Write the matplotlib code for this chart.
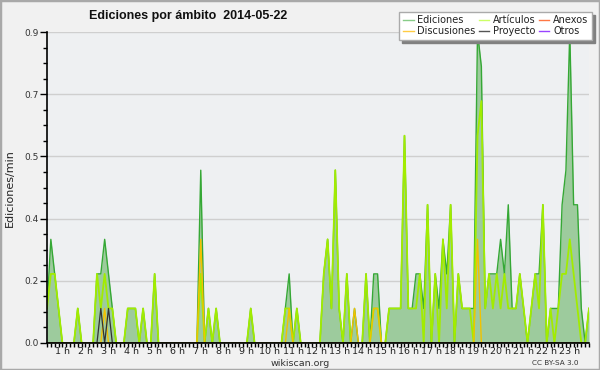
import numpy as np
import matplotlib
matplotlib.use("Agg")
import matplotlib.pyplot as plt
from matplotlib.patches import Rectangle
from matplotlib.lines import Line2D

# ---- data: 10-minute bins from 00:20 to 23:50 (edits per minute) ----
minutes = np.arange(20, 1440, 10)

ediciones = [
    0.1, 0.3, 0.2, 0.1,
    0, 0, 0, 0, 0.1, 0,
    0, 0, 0, 0.2, 0.2, 0.3,
    0.2, 0.1, 0, 0, 0, 0.1,
    0.1, 0.1, 0, 0.1, 0, 0,
    0.2, 0, 0, 0, 0, 0,
    0, 0, 0, 0, 0, 0,
    0.5, 0, 0.1, 0, 0.1, 0,
    0, 0, 0, 0, 0, 0,
    0, 0.1, 0, 0, 0, 0,
    0, 0, 0, 0, 0.1, 0.2,
    0, 0.1, 0, 0, 0, 0,
    0, 0, 0.2, 0.3, 0.1, 0.5,
    0.1, 0, 0.2, 0, 0.1, 0,
    0, 0.2, 0, 0.2, 0.2, 0,
    0, 0.1, 0.1, 0.1, 0.1, 0.6,
    0.1, 0.1, 0.2, 0.2, 0.1, 0.4,
    0, 0.2, 0.1, 0.3, 0.2, 0.4,
    0, 0.2, 0.1, 0.1, 0.1, 0.1,
    0.9, 0.8, 0.1, 0.2, 0.2, 0.2,
    0.3, 0.2, 0.4, 0.1, 0.1, 0.2,
    0.1, 0, 0.1, 0.2, 0.2, 0.4,
    0, 0.1, 0.1, 0.1, 0.4, 0.5,
    0.9, 0.4, 0.4, 0.1, 0, 0.1,
]

articulos = [
    0.1, 0.2, 0.2, 0.1,
    0, 0, 0, 0, 0.1, 0,
    0, 0, 0, 0.2, 0.1, 0.2,
    0.1, 0.1, 0, 0, 0, 0.1,
    0.1, 0.1, 0, 0.1, 0, 0,
    0.2, 0, 0, 0, 0, 0,
    0, 0, 0, 0, 0, 0,
    0.2, 0, 0.1, 0, 0.1, 0,
    0, 0, 0, 0, 0, 0,
    0, 0.1, 0, 0, 0, 0,
    0, 0, 0, 0, 0.1, 0.1,
    0, 0.1, 0, 0, 0, 0,
    0, 0, 0.2, 0.3, 0.1, 0.5,
    0.1, 0, 0.2, 0, 0, 0,
    0, 0.2, 0, 0.1, 0.1, 0,
    0, 0.1, 0.1, 0.1, 0.1, 0.6,
    0.1, 0.1, 0.1, 0.2, 0, 0.4,
    0, 0.2, 0, 0.3, 0.1, 0.4,
    0, 0.2, 0.1, 0.1, 0.1, 0,
    0.6, 0.7, 0.1, 0.2, 0.1, 0.2,
    0.1, 0.2, 0.1, 0.1, 0.1, 0.2,
    0.1, 0, 0.1, 0.2, 0.1, 0.4,
    0, 0.1, 0, 0.1, 0.2, 0.2,
    0.3, 0.2, 0.1, 0, 0, 0.1,
]

discusiones = [0.0] * 142
for m, v in [(170, 0.1), (420, 0.3), (650, 0.1), (820, 0.1), (870, 0.1), (880, 0.1), (1140, 0.3)]:
    discusiones[(m - 20) // 10] = v

proyecto = [0.0] * 142
for m, v in [(160, 0.1), (180, 0.1)]:
    proyecto[(m - 20) // 10] = v

anexos = [0.0] * 142
otros = [0.0] * 142

hour_labels = [f"{h} h" for h in range(1, 24)]
y_ticks = [0, 0.18, 0.36, 0.54, 0.72, 0.9]

# ---- figure ----
fig = plt.figure(figsize=(6.0, 3.7), dpi=100, facecolor="#f1f1f1")
ax = fig.add_axes([47 / 600, 1 - 343 / 370, 542 / 600, 311 / 370])
ax.set_facecolor("#eef0f2")

x = minutes / 60.0
ax.fill_between(x, 0, ediciones, color="#9dcb9d", lw=0, zorder=2)
ax.plot(x, ediciones, color="#35a835", lw=1.0, zorder=3)
ax.plot(x, anexos, color="#ff7744", lw=1.0, zorder=3)
ax.plot(x, otros, color="#9944ff", lw=1.0, zorder=3)
ax.plot(x, articulos, color="#a2ec00", lw=1.3, zorder=4)
ax.plot(x, discusiones, color="#f2c200", lw=1.0, zorder=5)
ax.plot(x, proyecto, color="#333333", lw=0.9, zorder=6)

ax.set_xlim(x[0], x[-1])
ax.set_ylim(0, 0.9)

ax.set_yticks(y_ticks)
ax.set_yticklabels([f"{v:.1f}" for v in y_ticks])
ax.set_yticks(np.arange(0, 0.901, 0.045), minor=True)
ax.set_xticks(np.arange(1, 24), hour_labels)
ax.set_xticks(np.arange(20, 1440, 10) / 60.0, minor=True)

ax.tick_params(axis="y", which="major", length=5, width=1, labelsize=6.5,
               labelcolor="#333333", pad=1)
ax.tick_params(axis="y", which="minor", length=3, width=1)
ax.tick_params(axis="x", which="both", length=3, width=1, labelsize=6.8,
               labelcolor="#222222", pad=0)

ax.grid(axis="y", which="major", color="#cfcfcf", lw=1, zorder=1)
ax.set_axisbelow(True)
for s in ("top", "right"):
    ax.spines[s].set_visible(False)
ax.spines["left"].set_linewidth(1.2)
ax.spines["bottom"].set_linewidth(1.2)
ax.spines["left"].set_zorder(10)
ax.spines["bottom"].set_zorder(10)

fig.text(188 / 600, 1 - 16 / 370, "Ediciones por ámbito  2014-05-22",
         family=["Liberation Sans", "DejaVu Sans"],
         fontsize=9, fontweight="bold", ha="center", va="center", color="#111111")
fig.text(10 / 600, 1 - 188 / 370, "Ediciones/min", rotation=90,
         fontsize=8, ha="center", va="center", color="#222222")
fig.text(300 / 600, 1 - 363 / 370, "wikiscan.org", fontsize=6.8,
         ha="center", va="center", color="#333333")
fig.text(555 / 600, 1 - 363 / 370, "CC BY-SA 3.0", fontsize=5.2,
         ha="center", va="center", color="#333333")

handles = [
    Line2D([], [], color="#88cc88", lw=1),
    Line2D([], [], color="#ffcc44", lw=1),
    Line2D([], [], color="#ccff66", lw=1),
    Line2D([], [], color="#555555", lw=1),
    Line2D([], [], color="#ff7744", lw=1),
    Line2D([], [], color="#9944ff", lw=1),
]
labels = ["Ediciones", "Discusiones", "Artículos", "Proyecto", "Anexos", "Otros"]
leg = fig.legend(handles, labels, ncol=3, loc="upper right",
                 bbox_to_anchor=(592 / 600, 1 - 12 / 370),
                 fontsize=7, frameon=True, fancybox=False,
                 shadow={"color": "#808080", "alpha": 1.0},
                 edgecolor="#aaaaaa", facecolor="white", framealpha=1,
                 borderpad=0.35, labelspacing=0.1, handlelength=1.1,
                 handletextpad=0.4, columnspacing=0.3, borderaxespad=0)
for t in leg.get_texts():
    t.set_color("#222222")

fig.patches.append(Rectangle((0, 0), 1, 1, transform=fig.transFigure,
                             fill=False, edgecolor="#a9a9a9", lw=2.5))

fig.savefig("out.png", dpi=100, facecolor=fig.get_facecolor())
